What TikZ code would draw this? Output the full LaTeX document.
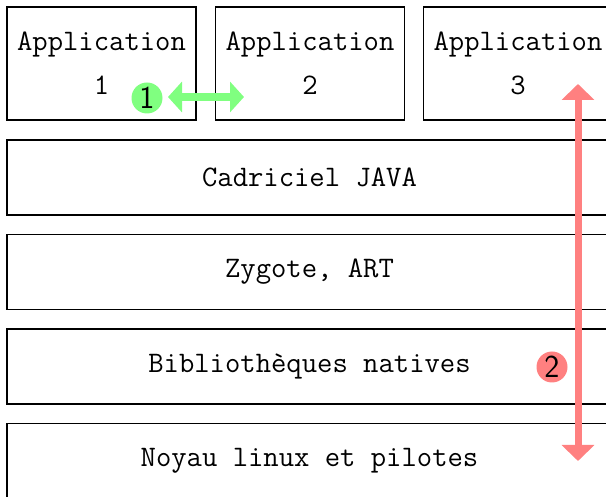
\documentclass[tikz,border=0pt]{standalone}
\usetikzlibrary{arrows.meta}
\definecolor{lgreen}{HTML}{80FF80}
\definecolor{lred}{HTML}{FF8080}
\tikzset{
  layer/.style={draw=black, line width=0.6pt, font=\ttfamily\fontsize{14.9}{22}\selectfont, align=center, inner sep=0pt},
  badge/.style={circle, minimum size=15.5pt, inner sep=0pt, font=\sffamily\fontsize{16}{16}\selectfont},
}
\begin{document}
\begin{tikzpicture}[x=0.5pt, y=-0.5pt]
\useasboundingbox (0,0) rectangle (606,497);
\clip (0,0) rectangle (606,497);
% application boxes
\node[layer, minimum width=94.5pt, minimum height=56.5pt] (a1) at (101.5,63.5) {Application\\1};
\node[layer, minimum width=94.5pt, minimum height=56.5pt] (a2) at (310,63.5) {Application\\2};
\node[layer, minimum width=94.5pt, minimum height=56.5pt] (a3) at (518,63.5) {Application\\3};
% layers
\node[layer, minimum width=302.5pt, minimum height=37.5pt] (l1) at (309.5,177.5) {Cadriciel JAVA};
\node[layer, minimum width=302.5pt, minimum height=37.5pt] (l2) at (309.5,272) {Zygote, ART};
\node[layer, minimum width=302.5pt, minimum height=37.5pt] (l3) at (309.5,366.5) {Bibliothèques natives};
\node[layer, minimum width=302.5pt, minimum height=37.5pt] (l4) at (309.5,461) {Noyau linux et pilotes};
% green arrow
\coordinate (g1) at (168,97);
\coordinate (g2) at (244,97);
\draw[lgreen, line width=4pt, {Triangle[width=15pt,length=7pt]}-{Triangle[width=15pt,length=7pt]}] (g1) -- (g2);
\node[badge, fill=lgreen] (b1) at (147,98) {1};
% red arrow
\coordinate (r1) at (578,84);
\coordinate (r2) at (578,461);
\draw[lred, line width=3.5pt, {Triangle[width=16pt,length=8pt]}-{Triangle[width=16pt,length=8pt]}] (r1) -- (r2);
\node[badge, fill=lred] (b2) at (552,367) {2};
\end{tikzpicture}
\end{document}
